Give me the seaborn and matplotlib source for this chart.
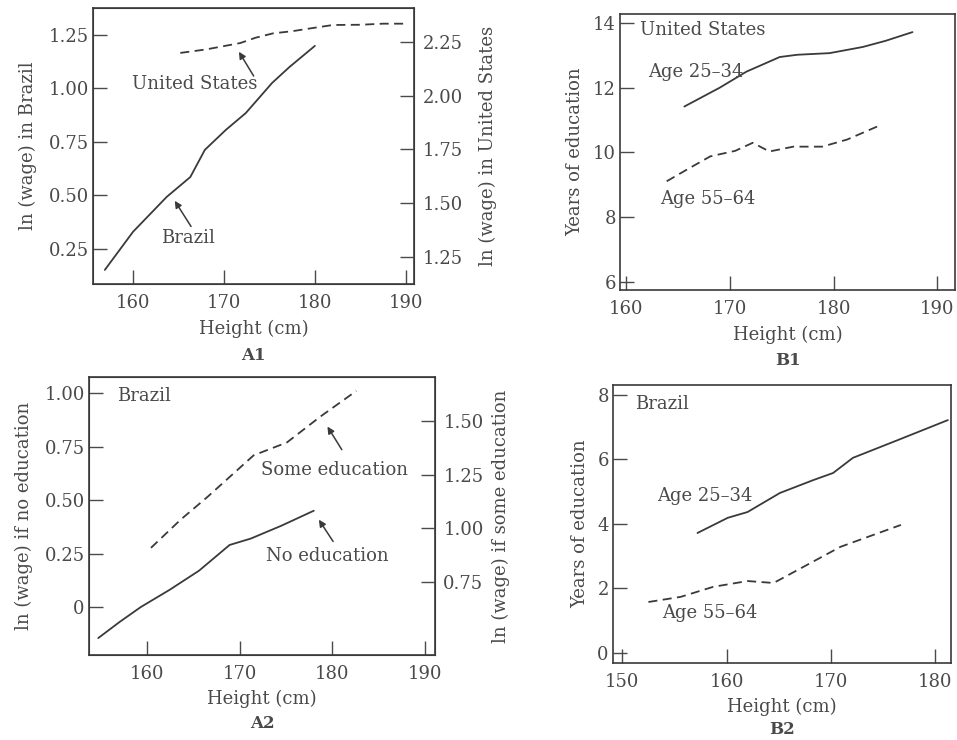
import matplotlib
matplotlib.use("Agg")
import matplotlib.pyplot as plt
import seaborn as sns
import pandas as pd

# A1: ln(wage) vs height
a1_br_h = [156.9, 160.0, 163.7, 166.3, 167.9, 170.2, 172.4, 175.3, 177.2, 180.0]
a1_br_w = [0.152, 0.33, 0.493, 0.586, 0.713, 0.806, 0.885, 1.026, 1.10, 1.199]
a1_us_h = [165.2, 168.0, 171.8, 173.5, 175.4, 177.5, 179.8, 182.0, 185.0, 187.5, 189.9]
a1_us_w = [2.199, 2.215, 2.245, 2.27, 2.29, 2.30, 2.315, 2.329, 2.33, 2.335, 2.335]

# B1: US years of education
b1_young_h = [165.6, 169.0, 171.6, 174.8, 176.5, 179.6, 182.8, 185.0, 187.6]
b1_young_y = [11.42, 12.0, 12.5, 12.95, 13.02, 13.07, 13.26, 13.45, 13.72]
b1_old_h = [163.9, 166.0, 168.1, 170.5, 172.2, 173.8, 176.1, 178.9, 181.3, 184.4]
b1_old_y = [9.11, 9.5, 9.88, 10.05, 10.3, 10.03, 10.18, 10.18, 10.4, 10.83]

# A2: Brazil by education
a2_none_h = [154.7, 157.0, 159.3, 162.4, 165.6, 168.9, 171.2, 174.5, 178.0]
a2_none_w = [-0.145, -0.07, 0.0, 0.08, 0.17, 0.29, 0.32, 0.38, 0.45]
a2_some_h = [160.4, 163.6, 166.5, 169.7, 171.5, 175.1, 178.7, 182.6]
a2_some_w = [0.909, 1.04, 1.146, 1.27, 1.34, 1.40, 1.52, 1.64]

# B2: Brazil years of education
b2_young_h = [157.2, 160.1, 162.0, 165.1, 168.3, 170.2, 172.1, 176.4, 181.2]
b2_young_y = [3.72, 4.19, 4.37, 4.96, 5.36, 5.58, 6.05, 6.6, 7.22]
b2_old_h = [152.5, 155.6, 158.7, 162.0, 164.5, 167.7, 170.9, 176.7]
b2_old_y = [1.58, 1.74, 2.05, 2.23, 2.17, 2.73, 3.29, 3.97]

sns.set_style("white")
plt.rcParams["font.family"] = ["DejaVu Serif"]
plt.rcParams["font.size"] = 13
TXT = "#4a4a4a"
LN = "#3a3a3a"
plt.rcParams["text.color"] = TXT
plt.rcParams["axes.labelcolor"] = TXT
plt.rcParams["xtick.color"] = TXT
plt.rcParams["ytick.color"] = TXT
plt.rcParams["axes.edgecolor"] = LN

DASH = (0, (5, 3))

fig = plt.figure(figsize=(9.57, 7.40), dpi=100)


def style(ax):
    ax.tick_params(axis="x", direction="in", length=10, width=1.0, labelsize=13,
                   bottom=True, top=False, pad=7)
    ax.tick_params(axis="y", direction="in", length=10, width=1.0, labelsize=13,
                   left=True, right=False, pad=3)
    for s in ax.spines.values():
        s.set_linewidth(1.2)


def style_right(ax2):
    ax2.tick_params(axis="y", direction="in", length=10, width=1.0, labelsize=13,
                    right=True, pad=6)


def line(ax, h, v, dashed=False):
    df = pd.DataFrame({"h": h, "v": v})
    sns.lineplot(data=df, x="h", y="v", ax=ax, color=LN, lw=1.3,
                 linestyle=DASH if dashed else "-", estimator=None, sort=False)


def arrow(ax, text_xy, tip_xy):
    ax.annotate("", xy=tip_xy, xytext=text_xy, xycoords="axes fraction",
                textcoords="axes fraction",
                arrowprops=dict(arrowstyle="-|>", color=LN, lw=1.1, mutation_scale=10))


# ---- A1
ax = fig.add_axes([0.0972, 0.6162, 0.3354, 0.373])
line(ax, a1_br_h, a1_br_w)
ax.set_xlim(155.6, 190.9)
ax.set_ylim(0.086, 1.376)
ax.set_xticks([160, 170, 180, 190])
ax.set_yticks([0.25, 0.50, 0.75, 1.00, 1.25])
ax.set_yticklabels(["0.25", "0.50", "0.75", "1.00", "1.25"])
ax.set_xlabel("Height (cm)", labelpad=6)
ax.set_ylabel("ln (wage) in Brazil", labelpad=8)
style(ax)
ax2 = ax.twinx()
line(ax2, a1_us_h, a1_us_w, dashed=True)
ax2.set_ylim(1.124, 2.408)
ax2.set_yticks([1.25, 1.50, 1.75, 2.00, 2.25])
ax2.set_yticklabels(["1.25", "1.50", "1.75", "2.00", "2.25"])
ax2.set_ylabel("ln (wage) in United States", labelpad=12)
ax2.set_xlabel("")
style_right(ax2)
ax.text(0.5, -0.26, "A1", transform=ax.transAxes, ha="center", va="center",
        fontweight="bold", fontsize=12)
ax.text(166.8, 1.02, "United States", ha="center", va="center")
arrow(ax, (0.505, 0.745), (0.45, 0.85))
ax.text(166.0, 0.30, "Brazil", ha="center", va="center")
arrow(ax, (0.31, 0.20), (0.25, 0.31))

# ---- B1
ax = fig.add_axes([0.6479, 0.6081, 0.350, 0.373])
line(ax, b1_young_h, b1_young_y)
line(ax, b1_old_h, b1_old_y, dashed=True)
ax.set_xlim(159.4, 191.7)
ax.set_ylim(5.75, 14.28)
ax.set_xticks([160, 170, 180, 190])
ax.set_yticks([6, 8, 10, 12, 14])
ax.set_xlabel("Height (cm)", labelpad=6)
ax.set_ylabel("Years of education", labelpad=6)
style(ax)
ax.text(0.5, -0.255, "B1", transform=ax.transAxes, ha="center", va="center",
        fontweight="bold", fontsize=12)
ax.text(0.06, 0.975, "United States", transform=ax.transAxes, ha="left", va="top")
ax.text(0.085, 0.79, "Age 25\u201334", transform=ax.transAxes, ha="left", va="center")
ax.text(0.12, 0.33, "Age 55\u201364", transform=ax.transAxes, ha="left", va="center")

# ---- A2
ax = fig.add_axes([0.0930, 0.1149, 0.3615, 0.3757])
line(ax, a2_none_h, a2_none_w)
ax.set_xlim(153.7, 191.1)
ax.set_ylim(-0.224, 1.075)
ax.set_xticks([160, 170, 180, 190])
ax.set_yticks([0, 0.25, 0.50, 0.75, 1.00])
ax.set_yticklabels(["0", "0.25", "0.50", "0.75", "1.00"])
ax.set_xlabel("Height (cm)", labelpad=5)
ax.set_ylabel("ln (wage) if no education", labelpad=8)
style(ax)
ax2 = ax.twinx()
line(ax2, a2_some_h, a2_some_w, dashed=True)
ax2.set_ylim(0.410, 1.705)
ax2.set_yticks([0.75, 1.00, 1.25, 1.50])
ax2.set_yticklabels(["0.75", "1.00", "1.25", "1.50"])
ax2.set_ylabel("ln (wage) if some education", labelpad=6)
ax2.set_xlabel("")
style_right(ax2)
ax.text(0.5, -0.245, "A2", transform=ax.transAxes, ha="center", va="center",
        fontweight="bold", fontsize=12)
ax.text(0.08, 0.93, "Brazil", transform=ax.transAxes, ha="left", va="center")
ax.text(0.71, 0.665, "Some education", transform=ax.transAxes, ha="center", va="center")
arrow(ax, (0.735, 0.73), (0.685, 0.83))
ax.text(0.69, 0.355, "No education", transform=ax.transAxes, ha="center", va="center")
arrow(ax, (0.71, 0.40), (0.66, 0.495))

# ---- B2
ax = fig.add_axes([0.6405, 0.1041, 0.3532, 0.3757])
line(ax, b2_young_h, b2_young_y)
line(ax, b2_old_h, b2_old_y, dashed=True)
ax.set_xlim(149.1, 181.5)
ax.set_ylim(-0.31, 8.31)
ax.set_xticks([150, 160, 170, 180])
ax.set_yticks([0, 2, 4, 6, 8])
ax.set_xlabel("Height (cm)", labelpad=5)
ax.set_ylabel("Years of education", labelpad=6)
style(ax)
ax.text(0.5, -0.24, "B2", transform=ax.transAxes, ha="center", va="center",
        fontweight="bold", fontsize=12)
ax.text(0.065, 0.93, "Brazil", transform=ax.transAxes, ha="left", va="center")
ax.text(0.13, 0.60, "Age 25\u201334", transform=ax.transAxes, ha="left", va="center")
ax.text(0.145, 0.18, "Age 55\u201364", transform=ax.transAxes, ha="left", va="center")

fig.savefig("out.png", dpi=100)
